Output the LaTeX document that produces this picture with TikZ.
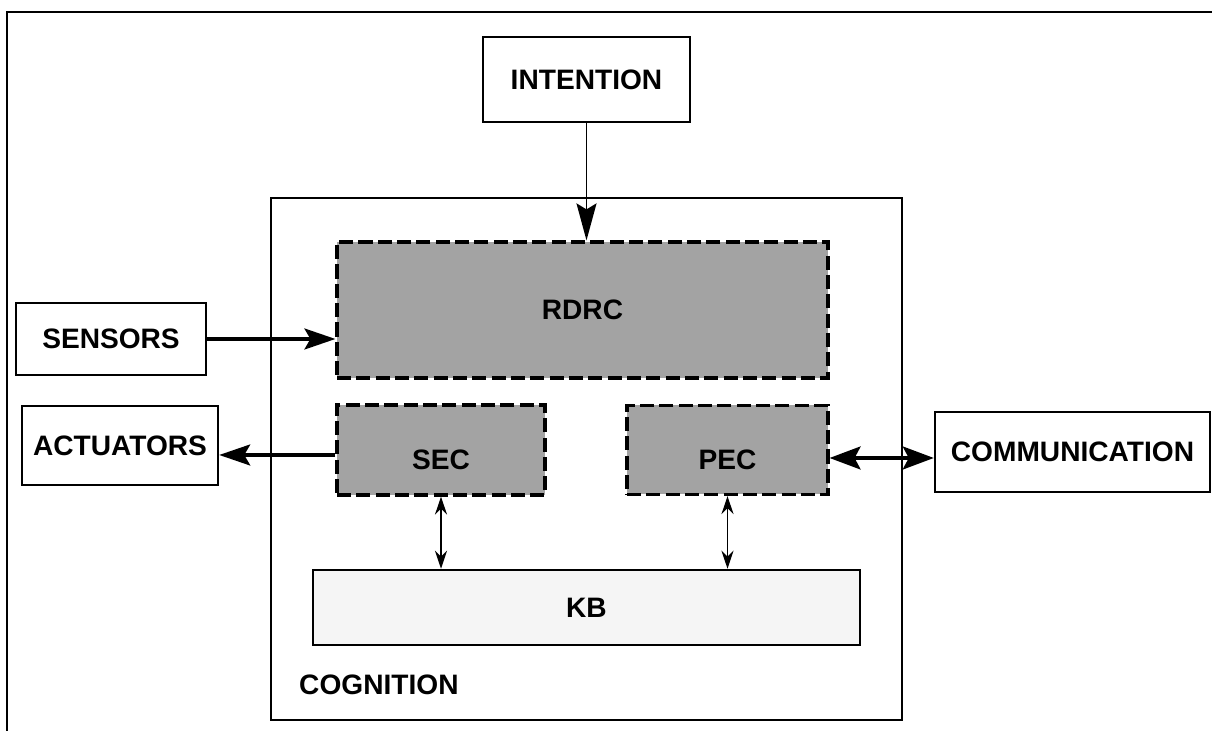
\documentclass[tikz,border=0pt]{standalone}
\usepackage{fontspec}
\setmainfont{Liberation Sans}
\usetikzlibrary{arrows.meta}

\tikzset{
  box/.style={draw, line width=1.4pt, inner sep=0pt, font=\bfseries\fontsize{16}{18}\selectfont},
  dashbox/.style={box, dashed, dash pattern=on 8pt off 3pt, line width=1.8pt, fill=black!36},
  bigarrow/.style={line width=1.8pt, -{Stealth[length=0.62cm, width=0.42cm, inset=0.12cm]}},
  bigboth/.style={line width=1.8pt, {Stealth[length=0.62cm, width=0.46cm, inset=0.12cm]}-{Stealth[length=0.62cm, width=0.46cm, inset=0.12cm]}},
  smallboth/.style={line width=1.1pt, {Stealth[length=0.36cm, width=0.24cm]}-{Stealth[length=0.36cm, width=0.24cm]}},
}

\begin{document}
\begin{tikzpicture}
        \useasboundingbox (0, 0) rectangle (24.24, 14.62);

        % outer frame, only top and left edges
        \draw[line width=1.4pt] (0.14, 0) -- (0.14, 14.38) -- (24.24, 14.38);

        \node[box, minimum width=12.62cm, minimum height=10.44cm] (cognition) at (11.73, 5.44) {};
        \node[box, draw=none, anchor=west] (coglabel) at (5.96, 0.92) {COGNITION};

        \node[box, minimum width=4.14cm, minimum height=1.70cm] (intention) at (11.73, 13.03) {INTENTION};
        \node[dashbox, minimum width=9.82cm, minimum height=2.72cm] (rdrc) at (11.65, 8.42) {RDRC};
        \node[box, minimum width=3.8cm, minimum height=1.44cm] (sensors) at (2.22, 7.84) {SENSORS};
        \node[box, minimum width=3.92cm, minimum height=1.58cm] (actuators) at (2.40, 5.71) {ACTUATORS};
        \node[dashbox, minimum width=4.16cm, minimum height=1.8cm, text height=0.8cm, text depth=0cm] (sec) at (8.82, 5.62) {SEC};
        \node[dashbox, minimum width=4.02cm, minimum height=1.78cm, text height=0.8cm, text depth=0cm] (pec) at (14.55, 5.62) {PEC};
        \node[box, minimum width=5.5cm, minimum height=1.6cm] (comm) at (21.45, 5.58) {COMMUNICATION};
        \node[box, fill=black!4, minimum width=10.94cm, minimum height=1.5cm] (kb) at (11.73, 2.47) {KB};

        \draw[line width=1pt, -{Stealth[length=0.74cm, width=0.4cm, inset=0.12cm]}] (intention.south) -- (intention.south |- rdrc.north);
        \draw[bigarrow] (sensors.east) -- (sensors.east -| rdrc.west);
        \draw[bigarrow] ([yshift=-0.1cm]sec.west) -- ([yshift=-0.1cm]sec.west -| actuators.east);
        \draw[bigboth] ([yshift=-0.16cm]pec.east) -- ([yshift=-0.16cm]pec.east -| comm.west);

        \draw[smallboth] (sec.south) -- (sec.south |- kb.north);
        \draw[smallboth] (pec.south) -- (pec.south |- kb.north);

    \end{tikzpicture}
\end{document}
